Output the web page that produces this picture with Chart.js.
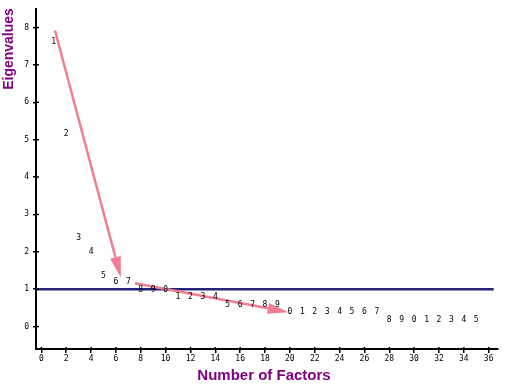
<!DOCTYPE html>
<html><head><meta charset="utf-8">
<script src="https://cdn.jsdelivr.net/npm/chart.js@4/dist/chart.umd.min.js"></script>
<style>html,body{margin:0;padding:0;background:#fff;}#wrap{width:508px;height:388px;}</style>
</head><body><div id="wrap"><canvas id="c" width="508" height="388"></canvas></div>
<script>
// factor numbers and eigenvalues
const factors = [1,2,3,4,5,6,7,8,9,10,11,12,13,14,15,16,17,18,19,20,21,22,23,24,25,26,27,28,29,30,31,32,33,34,35];
const eigenvalues = [7.62,5.15,2.36,1.99,1.36,1.19,1.19,0.98,0.98,0.98,0.78,0.78,0.78,0.78,0.58,0.58,0.58,0.58,0.58,0.39,0.39,0.39,0.39,0.39,0.39,0.39,0.39,0.18,0.18,0.18,0.18,0.18,0.18,0.18,0.18];
const pointLabels = factors.map(n => String(n % 10));
const cutoff = 1;
const cutoffRange = [-0.43, 36.4];
const arrow1 = [[1.1, 7.92], [6.4, 1.31]];
const arrow2 = [[7.53, 1.16], [19.9, 0.385]];
const xTicks = [0,2,4,6,8,10,12,14,16,18,20,22,24,26,28,30,32,34,36];
const yTicks = [0,1,2,3,4,5,6,7,8];

const PINK = '#f27d91';
const PURPLE = '#800080';

const labelPlugin = {
  id: 'labels',
  afterDatasetsDraw(chart) {
    const {ctx, scales:{x, y}} = chart;
    ctx.save();
    // arrows
    [arrow1, arrow2].forEach(a => {
      const x0 = x.getPixelForValue(a[0][0]), y0 = y.getPixelForValue(a[0][1]);
      const x1 = x.getPixelForValue(a[1][0]), y1 = y.getPixelForValue(a[1][1]);
      const ang = Math.atan2(y1 - y0, x1 - x0);
      const L = 21, W = 5.5;
      const bx = x1 - L * Math.cos(ang), by = y1 - L * Math.sin(ang);
      ctx.strokeStyle = PINK; ctx.lineWidth = 2.5; ctx.lineCap = 'butt';
      ctx.beginPath(); ctx.moveTo(x0, y0); ctx.lineTo(bx, by); ctx.stroke();
      ctx.fillStyle = PINK;
      ctx.beginPath();
      ctx.moveTo(x1, y1);
      ctx.lineTo(bx + W * Math.sin(ang), by - W * Math.cos(ang));
      ctx.lineTo(bx - W * Math.sin(ang), by + W * Math.cos(ang));
      ctx.closePath(); ctx.fill();
    });
    // point labels
    ctx.fillStyle = '#000';
    ctx.font = '8px "DejaVu Sans Mono"';
    ctx.textAlign = 'center'; ctx.textBaseline = 'middle';
    factors.forEach((f, i) => {
      ctx.fillText(pointLabels[i], x.getPixelForValue(f), y.getPixelForValue(eigenvalues[i]));
    });
    // small tick extensions inside the axes
    ctx.strokeStyle = '#000'; ctx.lineWidth = 1.5;
    yTicks.forEach(v => { const py = y.getPixelForValue(v); ctx.beginPath(); ctx.moveTo(x.left, py); ctx.lineTo(x.left + 3, py); ctx.stroke(); });
    xTicks.forEach(v => { const px = x.getPixelForValue(v); ctx.beginPath(); ctx.moveTo(px, y.bottom); ctx.lineTo(px, y.bottom - 2); ctx.stroke(); });
    // titles
    ctx.fillStyle = PURPLE;
    ctx.font = 'bold 15px "Liberation Sans", Arial, sans-serif';
    ctx.textAlign = 'center'; ctx.textBaseline = 'middle';
    ctx.fillText('Number of Factors', 264, 376);
    ctx.save();
    ctx.translate(9, 49); ctx.rotate(-Math.PI / 2);
    ctx.font = 'bold 14px "Liberation Sans", Arial, sans-serif';
    ctx.fillText('Eigenvalues', 0, 0);
    ctx.restore();
    ctx.restore();
  }
};

new Chart(document.getElementById('c'), {
  type: 'scatter',
  data: {
    datasets: [
      {
        type: 'line',
        data: cutoffRange.map(v => ({x: v, y: cutoff})),
        borderColor: '#25257c', borderWidth: 2.6, pointRadius: 0, fill: false
      },
      {
        data: factors.map((f, i) => ({x: f, y: eigenvalues[i]})),
        pointRadius: 0, showLine: false
      }
    ]
  },
  options: {
    responsive: false, animation: false,
    devicePixelRatio: 1,
    layout: {padding: {top: 4, right: 10, left: 0, bottom: 0}},
    plugins: {legend: {display: false}, tooltip: {enabled: false}},
    scales: {
      x: {
        type: 'linear', min: -0.43, max: 36.75,
        afterBuildTicks(s) { s.ticks = xTicks.map(v => ({value: v})); },
        afterFit(s) { s.height = 39; },
        grid: {display: true, drawOnChartArea: false, drawTicks: true, tickLength: 4, color: '#000', lineWidth: 1.5},
        border: {display: true, color: '#000', width: 2},
        ticks: {color: '#000', font: {size: 8, family: 'DejaVu Sans Mono'}, padding: 1, maxRotation: 0, autoSkip: false}
      },
      y: {
        type: 'linear', min: -0.6, max: 8.5,
        afterBuildTicks(s) { s.ticks = yTicks.map(v => ({value: v})); },
        afterFit(s) { s.width = 36; },
        grid: {display: true, drawOnChartArea: false, drawTicks: true, tickLength: 3, color: '#000', lineWidth: 1.5},
        border: {display: true, color: '#000', width: 2},
        ticks: {color: '#000', font: {size: 8, family: 'DejaVu Sans Mono'}, padding: 4, autoSkip: false}
      }
    }
  },
  plugins: [labelPlugin]
});
</script></body></html>
